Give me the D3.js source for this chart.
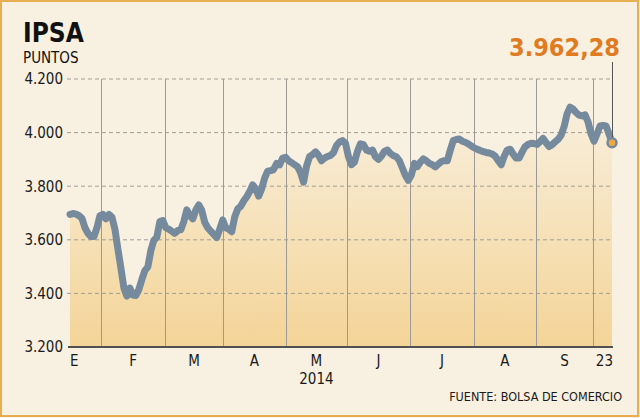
<!DOCTYPE html>
<html><head><meta charset="utf-8">
<script src="https://cdn.jsdelivr.net/npm/d3@7"></script>
<style>
html,body{margin:0;padding:0;background:#f8f0e0;}
svg{display:block;}
text{font-family:"DejaVu Sans Condensed","DejaVu Sans",sans-serif;font-stretch:condensed;}
</style></head>
<body>
<svg id="chart" width="640" height="418"></svg>
<script>
// ---- data (IPSA, puntos, 2014, daily closes) ----
const values = [
3695,3698,3696,3690,3680,3645,3624,3612,3612,3645,
3690,3695,3678,3695,3685,3640,3565,3495,3420,3390,
3420,3394,3392,3415,3452,3485,3499,3560,3598,3610,
3668,3672,3645,3640,3632,3624,3635,3637,3668,3712,
3690,3678,3711,3730,3710,3665,3645,3632,3620,3608,
3640,3674,3645,3640,3630,3685,3715,3725,3745,3760,
3780,3805,3790,3763,3790,3830,3856,3858,3862,3885,
3880,3905,3908,3895,3888,3880,3873,3850,3815,3875,
3910,3918,3928,3915,3895,3905,3911,3915,3925,3952,
3965,3970,3960,3910,3880,3890,3930,3958,3955,3935,
3930,3935,3910,3900,3912,3930,3935,3922,3914,3910,
3895,3868,3840,3822,3842,3885,3873,3890,3902,3895,
3885,3880,3872,3882,3892,3895,3895,3935,3970,3974,
3976,3968,3964,3958,3950,3943,3938,3933,3929,3926,
3924,3920,3912,3895,3880,3912,3935,3938,3920,3905,
3905,3928,3948,3956,3960,3959,3956,3966,3978,3962,
3948,3955,3965,3975,3990,4022,4070,4095,4088,4075,
4065,4062,4066,4040,3995,3968,3995,4025,4027,4025,
3995,3962.28
];
const monthLabels = ["E","F","M","A","M","J","J","A","S","23"];
// trading-day index at which each month begins (Feb..Sep) and the last-week separator
const monthStarts = [10.4, 31.7, 51.1, 72.1, 92.5, 113.6, 134.9, 155.6, 174.7];
const yTicks = [3200, 3400, 3600, 3800, 4000, 4200];
const yearLabel = "2014";
const title = "IPSA";
const unitLabel = "PUNTOS";
const sourceLabel = "FUENTE: BOLSA DE COMERCIO";
const lastValueLabel = "3.962,28";

// ---- layout ----
const svg = d3.select("#chart");
const W = 640, H = 418;
const mLeft = 70, mRight = 612, mTop = 79, mBottom = 347;

const n = values.length;
const x = d3.scaleLinear().domain([0, n - 1]).range([mLeft, mRight]);
const y = d3.scaleLinear().domain([3200, 4200]).range([mBottom, mTop]);
const fmt = v => d3.format(",")(v).replace(/,/g, ".");

// background + border
svg.append("rect").attr("x", 1).attr("y", 1).attr("width", W - 3).attr("height", H - 3)
  .attr("fill", "#f8f0e0").attr("stroke", "#e8ae52").attr("stroke-width", 2);

// gradient for area
const defs = svg.append("defs");
const grad = defs.append("linearGradient").attr("id", "ag")
  .attr("gradientUnits", "userSpaceOnUse").attr("x1", 0).attr("x2", 0)
  .attr("y1", y(4100)).attr("y2", mBottom);
grad.append("stop").attr("offset", "0%").attr("stop-color", "#f8efdd");
grad.append("stop").attr("offset", "100%").attr("stop-color", "#f4d497");

// area
const area = d3.area().x((d, i) => x(i)).y0(mBottom).y1(d => y(d));
svg.append("path").datum(values).attr("d", area).attr("fill", "url(#ag)");

// horizontal dashed grid
svg.append("g").selectAll("line").data(yTicks.filter(t => t > 3200)).join("line")
  .attr("x1", mLeft - 3).attr("x2", mRight).attr("y1", d => y(d)).attr("y2", d => y(d))
  .attr("stroke", "#a29d97").attr("stroke-width", 1).attr("stroke-dasharray", "4,3");

// vertical month lines
svg.append("g").selectAll("line").data(monthStarts).join("line")
  .attr("x1", d => Math.round(x(d)) + 0.5).attr("x2", d => Math.round(x(d)) + 0.5)
  .attr("y1", mTop).attr("y2", mBottom)
  .attr("stroke", "#9c9a96").attr("stroke-width", 1);

// y tick labels
svg.append("g").selectAll("text").data(yTicks).join("text")
  .attr("x", 63).attr("y", d => y(d)).attr("dy", "0.36em")
  .attr("text-anchor", "end").attr("font-size", 15).attr("fill", "#1a1a1a")
  .text(d => fmt(d));

// baseline axis
svg.append("line").attr("x1", mLeft - 2).attr("x2", mRight + 1)
  .attr("y1", mBottom).attr("y2", mBottom).attr("stroke", "#505050").attr("stroke-width", 2);

// month labels
const labelPos = monthLabels.map((m, i) => {
  if (i === 0) return { t: 0, anchor: "start", m };
  if (i === monthLabels.length - 1) return { t: n - 1, anchor: "end", m };
  return { t: (monthStarts[i - 1] + monthStarts[i]) / 2, anchor: "middle", m };
});
svg.append("g").selectAll("text").data(labelPos).join("text")
  .attr("x", d => x(d.t) + (d.anchor === "end" ? 1 : 0)).attr("y", 366)
  .attr("text-anchor", d => d.anchor).attr("font-size", 15).attr("fill", "#1a1a1a")
  .text(d => d.m);
svg.append("text").attr("x", x((monthStarts[3] + monthStarts[4]) / 2)).attr("y", 384)
  .attr("text-anchor", "middle").attr("font-size", 15).attr("fill", "#1a1a1a").text(yearLabel);

// line
const line = d3.line().x((d, i) => x(i)).y(d => y(d)).curve(d3.curveLinear);
svg.append("path").datum(values).attr("d", line).attr("fill", "none")
  .attr("stroke", "#768a9d").attr("stroke-width", 7)
  .attr("stroke-linejoin", "round").attr("stroke-linecap", "round");

// leader line and last value
const lastX = x(n - 1), lastY = y(values[n - 1]);
svg.append("line").attr("x1", lastX + 0.5).attr("x2", lastX + 0.5).attr("y1", 62).attr("y2", lastY)
  .attr("stroke", "#555").attr("stroke-width", 1);
svg.append("circle").attr("cx", lastX).attr("cy", lastY).attr("r", 4.5)
  .attr("fill", "#f0a844").attr("stroke", "#768a9d").attr("stroke-width", 2.5);
svg.append("text").attr("x", 620).attr("y", 56).attr("text-anchor", "end")
  .attr("font-size", 25).attr("font-weight", "bold").attr("fill", "#e07b22").text(lastValueLabel);

// titles
svg.append("text").attr("x", 23).attr("y", 42).attr("font-size", 26).attr("font-weight", "bold")
  .attr("fill", "#111").text(title);
svg.append("text").attr("x", 23).attr("y", 63).attr("font-size", 15).attr("fill", "#111").text(unitLabel);
svg.append("text").attr("x", 622).attr("y", 401).attr("text-anchor", "end").attr("font-size", 12.5)
  .attr("fill", "#1a1a1a").text(sourceLabel);
</script>
</body></html>
